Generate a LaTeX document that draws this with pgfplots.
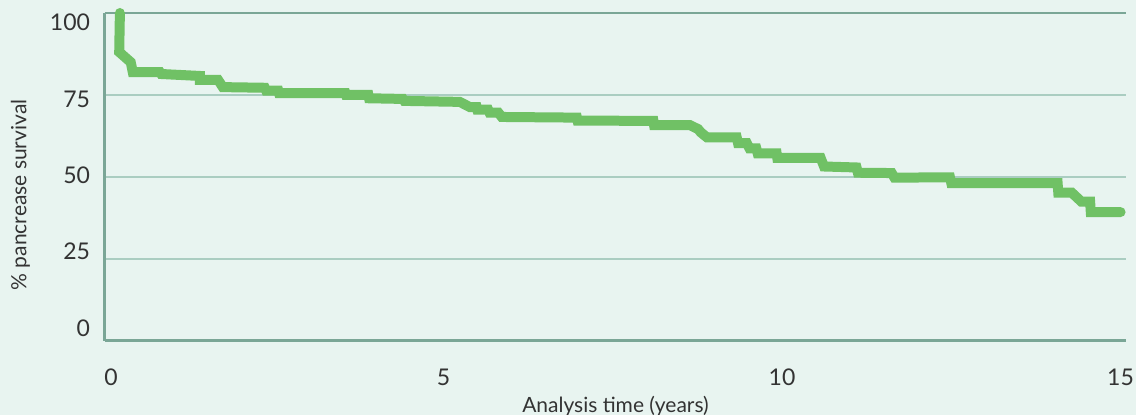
\documentclass[border=0pt]{standalone}
\usepackage{pgfplots}
\pgfplotsset{compat=1.18}
\usepackage{fontspec}
\setmainfont{Lato}
\definecolor{bgmint}{RGB}{232,244,240}
\definecolor{axisteal}{RGB}{122,166,150}
\definecolor{gridteal}{RGB}{170,205,193}
\definecolor{kmgreen}{RGB}{112,193,101}
\definecolor{labelgray}{RGB}{51,51,51}
\newcommand{\lift}[2]{\raisebox{#1}[\height][\depth]{#2}}

\begin{document}
\begin{tikzpicture}
% page background, axis sits at the origin (south west corner)
\fill[bgmint] (-52.5pt,-37pt) rectangle (515.5pt,170.5pt);
\begin{axis}[
    anchor=south west,
    at={(0,0)},
    scale only axis,
    width=510.5pt,
    height=164pt,
    xmin=0, xmax=15.08,
    ymin=0, ymax=100,
    clip=false,
    axis x line=bottom,
    axis y line=left,
    axis line style={axisteal, line width=1.5pt, -},
    major tick length=0pt,
    xtick={0,5,10,15},
    xticklabels={\hspace{6pt}0,5,10,15},
    ytick={0,25,50,75},
    yticklabels={\lift{6.5pt}{0},\lift{4pt}{25},\lift{1pt}{50},\lift{-2pt}{75}},
    extra y ticks={100},
    extra y tick labels={\lift{-4.5pt}{100}},
    extra y tick style={grid style={axisteal, line width=0.8pt}},
    ymajorgrids=true,
    grid style={gridteal, line width=0.8pt},
    /pgf/number format/assume math mode=true,
    tick label style={font=\fontsize{11.5}{13}\selectfont, text=labelgray},
    xticklabel style={yshift=-10.5pt},
    yticklabel style={xshift=-4pt},
    label style={font=\fontsize{10.5}{12}\selectfont, text=labelgray},
    xlabel={Analysis time (years)},
    ylabel={\% pancrease survival},
    xlabel style={at={(axis description cs:0.5,0)}, anchor=north, yshift=-24pt},
    ylabel style={at={(axis description cs:0,0.445)}, anchor=south, xshift=0pt, yshift=34pt},
]
\addplot[kmgreen, line width=5pt, line cap=round, line join=miter] coordinates {
    (0.22,100) (0.21,88.1) (0.38,85.0) (0.41,82.0) (0.81,82.0) (0.83,81.4)
    (1.40,80.8) (1.40,79.6) (1.67,79.6) (1.74,77.4) (2.36,77.2) (2.38,76.3)
    (2.56,76.3) (2.57,75.6) (3.55,75.6) (3.56,75.0) (3.89,75.0) (3.90,74.0)
    (4.40,73.8) (4.42,73.2) (5.24,72.9) (5.39,71.3) (5.49,71.3) (5.50,70.5)
    (5.66,70.5) (5.68,69.6) (5.81,69.6) (5.86,68.3) (6.97,68.1) (6.98,67.2)
    (8.10,67.1) (8.11,65.8) (8.64,65.8) (8.70,65.2) (8.76,64.6) (8.80,63.6)
    (8.89,62.1) (9.33,62.1)
    (9.35,60.3) (9.48,60.3) (9.52,58.7) (9.62,58.7) (9.64,57.2) (9.92,57.2)
    (9.93,55.8) (10.57,55.8) (10.62,53.2) (11.10,52.9) (11.12,51.3)
    (11.62,51.2) (11.66,49.8) (12.48,49.9) (12.50,48.1) (14.07,48.1)
    (14.08,45.2) (14.28,45.2) (14.42,42.5) (14.55,42.5) (14.56,39.3)
    (15.00,39.3)
};
\end{axis}
\pgfresetboundingbox
\useasboundingbox (-52.5pt,-37pt) rectangle (515.5pt,170.5pt);
\end{tikzpicture}
\end{document}
